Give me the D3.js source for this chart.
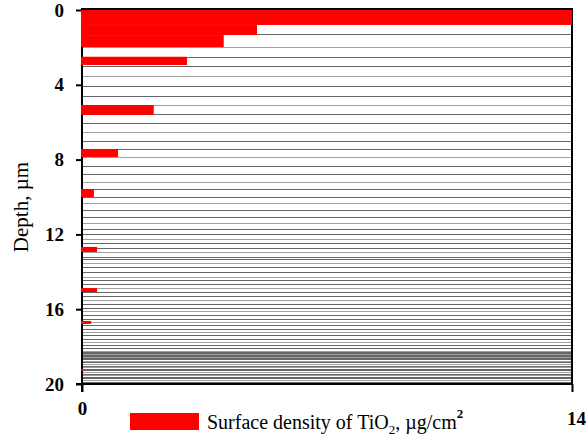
<!DOCTYPE html>
<html>
<head>
<meta charset="utf-8">
<script src="https://cdn.jsdelivr.net/npm/d3@7/dist/d3.min.js"></script>
<style>
  html, body { margin: 0; padding: 0; background: #fff; }
  svg { display: block; }
</style>
</head>
<body>
<svg id="chart" width="586" height="439"></svg>
<script>
// Layers: depth interval (µm) and TiO2 surface density (µg/cm²)
const depthFrom = [0, 0.8, 1.34, 2.5, 5.08, 7.43, 9.57, 12.67, 14.87, 16.63, 19.2];
const depthTo   = [0.8, 1.34, 1.98, 2.94, 5.61, 7.86, 10.0, 12.94, 15.08, 16.79, 19.3];
const density   = [14, 5.0, 4.05, 3.0, 2.05, 1.03, 0.34, 0.43, 0.43, 0.26, 0.06];

// Layer boundaries of the sectioned film (µm)
const layerDepths = [1.30, 1.99, 2.50, 2.98, 3.53, 4.06, 4.60, 5.10, 5.58, 6.06, 6.51, 7.00,
  7.45, 7.88, 8.33, 8.77, 9.21, 9.59, 10.02, 10.34, 10.70, 11.05, 11.41, 11.73, 11.99,
  12.25, 12.48, 12.71, 12.96, 13.19, 13.33, 13.55, 13.76, 13.99, 14.26, 14.44, 14.65,
  14.88, 15.10, 15.31, 15.52, 15.72, 15.92, 16.12, 16.31, 16.50, 16.69, 16.87, 17.05,
  17.23, 17.40, 17.57, 17.74, 17.91, 18.07, 18.23, 18.30, 18.36, 18.40, 18.46, 18.50,
  18.58, 18.63, 18.67, 18.76, 18.80, 18.85, 18.93, 19.02, 19.06, 19.10, 19.19, 19.27,
  19.36, 19.44, 19.48, 19.53, 19.61, 19.70, 19.78, 19.87, 19.95];

const depthTicks = [0, 4, 8, 12, 16, 20];
const densityTicks = [0, 14];

const serif = "'Liberation Serif', 'Times New Roman', serif";
const svg = d3.select("#chart");
const x = d3.scaleLinear().domain([0, 14]).range([82, 572]);
const y = d3.scaleLinear().domain([0, 20]).range([10, 384]);

// layer boundary lines
svg.append("g")
  .selectAll("line")
  .data(layerDepths)
  .join("line")
  .attr("x1", x(0)).attr("x2", x(14))
  .attr("y1", d => Math.round(y(d)) + 0.5)
  .attr("y2", d => Math.round(y(d)) + 0.5)
  .attr("stroke", (d, i) => (i % 3 === 1 ? "#a0a0a0" : "#666"))
  .attr("stroke-width", 1);

// frame
svg.append("line").attr("x1", x(0)).attr("x2", x(14)).attr("y1", y(0) - 1).attr("y2", y(0) - 1)
  .attr("stroke", "#000").attr("stroke-width", 2);
svg.append("line").attr("x1", x(14)).attr("x2", x(14)).attr("y1", y(0) - 2).attr("y2", y(20))
  .attr("stroke", "#000").attr("stroke-width", 2);

function styleTicks(g) {
  g.attr("font-family", serif).attr("font-size", 19).attr("font-weight", "bold");
  g.selectAll(".tick text").attr("fill", "#000");
  g.selectAll(".tick line").attr("stroke", "#000").attr("stroke-width", 2);
}

// axes
const yAxis = d3.axisLeft(y).tickValues(depthTicks).tickSize(6).tickPadding(12).tickFormat(d3.format("d"));
const gy = svg.append("g").attr("transform", `translate(${x(0)},0)`).call(yAxis).call(styleTicks);
gy.select(".domain").attr("d", `M0,${y(0) - 2}V${y(20) + 8}`).attr("stroke", "#000").attr("stroke-width", 2);

const xAxis = d3.axisBottom(x).tickValues(densityTicks).tickSize(8).tickPadding(10).tickFormat(d3.format("d"));
const gx = svg.append("g").attr("transform", `translate(0,${y(20)})`).call(xAxis).call(styleTicks);
gx.select(".domain").attr("d", `M${x(0) - 6},0H${x(14)}`).attr("stroke", "#000").attr("stroke-width", 2);
gx.selectAll(".tick text").filter(d => d === 14).attr("dx", 4).attr("dy", "1.2em");

// density bars
svg.append("g")
  .selectAll("rect")
  .data(density.map((v, i) => ({ v, a: depthFrom[i], b: depthTo[i] })))
  .join("rect")
  .attr("x", x(0) - 1)
  .attr("y", d => y(d.a))
  .attr("width", d => x(d.v) - x(0) + 1)
  .attr("height", d => y(d.b) - y(d.a))
  .attr("fill", "#ff0000");

// axis title
svg.append("text")
  .attr("transform", `translate(28,${(y(0) + y(20)) / 2 + 10}) rotate(-90)`)
  .attr("text-anchor", "middle")
  .attr("font-family", serif)
  .attr("font-size", 21)
  .attr("fill", "#000")
  .text("Depth, µm");

// legend
const lg = svg.append("g");
lg.append("rect").attr("x", 130).attr("y", 413).attr("width", 69).attr("height", 17).attr("fill", "#ff0000");
const lt = lg.append("text")
  .attr("x", 207).attr("y", 429)
  .attr("font-family", serif)
  .attr("font-size", 20)
  .attr("fill", "#000");
lt.append("tspan").text("Surface density of TiO");
lt.append("tspan").attr("dy", 5).attr("font-size", 13).text("2");
lt.append("tspan").attr("dy", -5).text(", µg/cm");
lt.append("tspan").attr("dy", -11).attr("font-size", 13).attr("font-weight", "bold").text("2");
</script>
</body>
</html>
